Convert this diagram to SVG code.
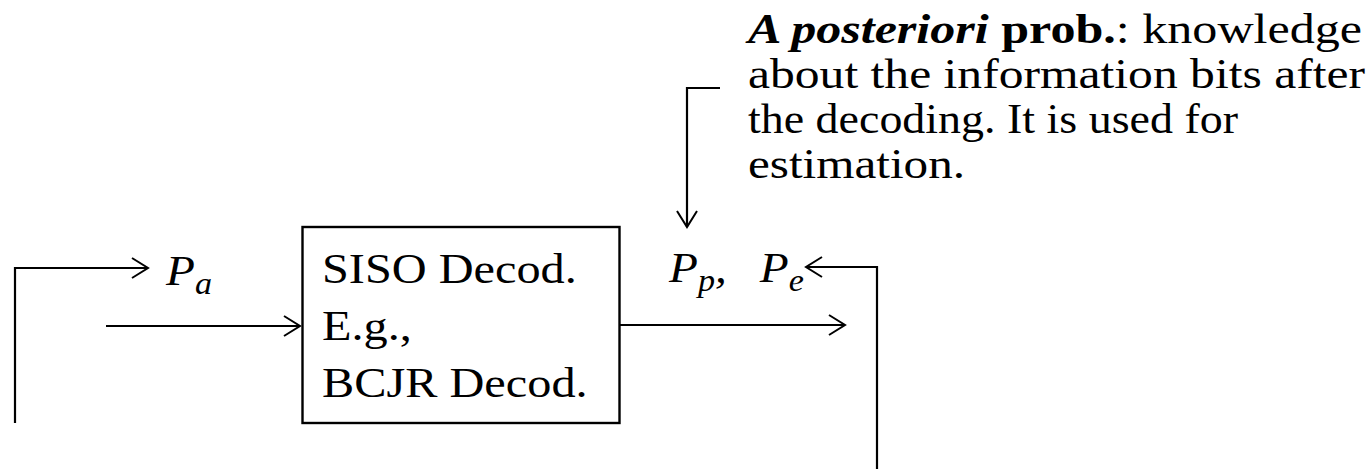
<svg xmlns="http://www.w3.org/2000/svg" width="1368" height="469" viewBox="0 0 1368 469">
<style>
.t{font-family:"Liberation Serif","Times New Roman",serif;font-size:42px;fill:#000}
.m{font-family:"Liberation Serif","DejaVu Serif",serif;font-style:italic;font-size:43px;fill:#000}
.s{font-size:31px}
.ln{fill:none;stroke:#000;stroke-width:2.2}
</style>
<defs>
<marker id="ah" markerWidth="20" markerHeight="24" refX="18" refY="12" orient="auto" markerUnits="userSpaceOnUse">
<path d="M2,2 L18,12 L2,22" fill="none" stroke="#000" stroke-width="2"/>
</marker>
</defs>
<rect width="1368" height="469" fill="#fff"/>
<g id="decoder">
<rect x="302.5" y="227" width="317" height="196" fill="#fff" stroke="#000" stroke-width="2.4"/>
<text class="t" transform="translate(322,283) scale(1.15,1)">SISO Decod.</text>
<text class="t" transform="translate(322,340) scale(1.15,1)">E.g.,</text>
<text class="t" transform="translate(322,397) scale(1.15,1)">BCJR Decod.</text>
</g>
<g id="label-pa">
<text class="m" transform="translate(166,285) scale(1.1,1)">P<tspan class="s" dy="9">a</tspan></text>
</g>
<g id="label-pp-pe">
<text class="m" transform="translate(669,282) scale(1.1,1)">P<tspan class="s" dy="9">p</tspan><tspan dy="-9">,</tspan><tspan dx="30">P</tspan><tspan class="s" dy="9">e</tspan></text>
</g>
<g id="annotation">
<text class="t" x="748" y="43" textLength="614" lengthAdjust="spacingAndGlyphs"><tspan font-weight="bold" font-style="italic">A posteriori</tspan> <tspan font-weight="bold">prob.</tspan>: knowledge</text>
<text class="t" x="748" y="88" textLength="617" lengthAdjust="spacingAndGlyphs">about the information bits after</text>
<text class="t" x="748" y="133" textLength="490" lengthAdjust="spacingAndGlyphs">the decoding. It is used for</text>
<text class="t" x="748" y="178" textLength="217" lengthAdjust="spacingAndGlyphs">estimation.</text>
</g>
<g id="connectors">
<polyline class="ln" points="15,423 15,268 148,268" marker-end="url(#ah)"/>
<line class="ln" x1="106" y1="326" x2="300" y2="326" marker-end="url(#ah)"/>
<line class="ln" x1="619" y1="325" x2="845" y2="325" marker-end="url(#ah)"/>
<polyline class="ln" points="877,469 877,267 806,267" marker-end="url(#ah)"/>
<polyline class="ln" points="720,88 687,88 687,227" marker-end="url(#ah)"/>
</g>
</svg>
